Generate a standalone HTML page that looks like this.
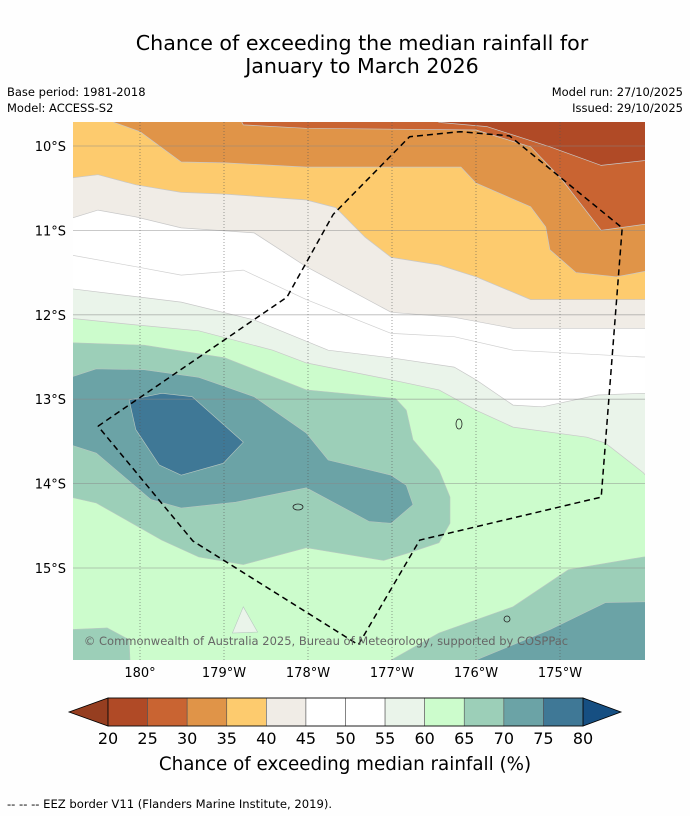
<!DOCTYPE html>
<html><head><meta charset="utf-8">
<style>
body{margin:0;background:#fff;}
svg{display:block;font-family:"DejaVu Sans","Liberation Sans",sans-serif;}
</style></head>
<body>
<svg id="chart" width="690" height="816" viewBox="0 0 690 816" xmlns="http://www.w3.org/2000/svg">
<rect width="690" height="816" fill="#fefefe"/>
<text x="362" y="50" text-anchor="middle" font-size="20.6">Chance of exceeding the median rainfall for</text>
<text x="362" y="73" text-anchor="middle" font-size="20.6">January to March 2026</text>
<text x="7" y="96" font-size="11.5">Base period: 1981-2018</text>
<text x="7" y="112" font-size="11.5">Model: ACCESS-S2</text>
<text x="683" y="96" text-anchor="end" font-size="11.5">Model run: 27/10/2025</text>
<text x="683" y="112" text-anchor="end" font-size="11.5">Issued: 29/10/2025</text>
<defs><clipPath id="mapclip"><rect x="73" y="122" width="572" height="538"/></clipPath></defs>
<g id="map" clip-path="url(#mapclip)"></g>
<g id="axes"></g>
<g id="cbar"></g>
<text x="345" y="770" text-anchor="middle" font-size="18.3">Chance of exceeding median rainfall (%)</text>
<text x="7" y="808" font-size="11.6">--  --  -- EEZ border V11 (Flanders Marine Institute, 2019).</text>
</svg>
<script>
const lonTicks = [180, 181, 182, 183, 184, 185];
const lonLabels = ["180°", "179°W", "178°W", "177°W", "176°W", "175°W"];
const latTicks = [-10, -11, -12, -13, -14, -15];
const latLabels = ["10°S", "11°S", "12°S", "13°S", "14°S", "15°S"];
const cbarLevels = [20, 25, 30, 35, 40, 45, 50, 55, 60, 65, 70, 75, 80];
const cbarColors = ["#b04a26","#c96432","#e09448","#fdcb6e","#f0ece6","#ffffff","#ffffff","#eaf4ea","#ccfccc","#9ccfb8","#6ba3a6","#3f7896"];
const underColor = "#963e20";
const overColor = "#164f82";

const c60 = [[179.0,-12.04],[179.17,-12.04],[179.95,-12.12],[180.70,-12.19],[181.58,-12.42],[181.98,-12.57],[182.99,-12.77],[183.56,-12.89],[184.0,-13.13],[184.44,-13.33],[185.32,-13.45],[185.54,-13.52],[185.99,-13.87],[186.2,-14.1]];
const c55 = [[179.0,-11.69],[179.17,-11.69],[180.49,-11.85],[181.36,-12.06],[182.24,-12.42],[182.99,-12.51],[183.74,-12.62],[184.0,-12.77],[184.44,-13.07],[184.79,-13.09],[185.45,-12.95],[185.98,-12.93],[186.2,-12.93]];
const c50 = [[179.0,-11.29],[179.17,-11.29],[179.95,-11.43],[180.49,-11.53],[181.23,-11.47],[181.98,-11.82],[182.99,-12.22],[183.74,-12.26],[184.44,-12.42],[185.98,-12.50],[186.2,-12.50]];
const c45 = [[179.0,-10.86],[179.17,-10.86],[179.5,-10.76],[179.95,-10.84],[180.49,-10.97],[181.36,-11.03],[181.98,-11.43],[182.99,-11.97],[183.74,-12.03],[184.44,-12.16],[186.2,-12.16]];
const c40 = [[179.0,-10.38],[179.17,-10.38],[179.5,-10.34],[179.95,-10.46],[180.49,-10.55],[181.01,-10.57],[181.98,-10.64],[182.33,-10.73],[182.68,-11.08],[182.99,-11.32],[183.56,-11.41],[184.0,-11.55],[184.65,-11.82],[186.2,-11.82]];
const c35 = [[179.6,-9.5],[179.69,-9.72],[180.0,-9.83],[180.49,-10.19],[181.01,-10.20],[181.98,-10.25],[183.82,-10.25],[184.0,-10.44],[184.65,-10.72],[184.83,-10.96],[184.88,-11.23],[185.19,-11.50],[185.67,-11.55],[186.2,-11.45]];
const c30 = [[181.10,-9.5],[181.23,-9.75],[181.98,-9.79],[184.0,-9.81],[184.65,-10.01],[185.01,-10.38],[185.49,-11.0],[186.2,-10.9]];
const c25 = [[183.4,-9.5],[183.56,-9.72],[184.13,-9.77],[184.88,-10.01],[185.49,-10.23],[186.2,-10.15]];
const blob65 = [[179.0,-12.33],[179.17,-12.33],[180.05,-12.36],[181.01,-12.51],[181.98,-12.89],[183.04,-12.99],[183.17,-13.13],[183.25,-13.48],[183.56,-13.84],[183.69,-14.16],[183.69,-14.47],[183.56,-14.70],[183.20,-14.82],[182.90,-14.91],[181.98,-14.76],[181.23,-14.96],[180.70,-14.87],[180.26,-14.67],[179.48,-14.23],[179.17,-14.16],[179.0,-14.16]];
const blob70 = [[179.0,-12.74],[179.17,-12.74],[179.48,-12.64],[180.05,-12.65],[180.70,-12.74],[181.36,-12.97],[181.98,-13.40],[182.24,-13.72],[182.99,-13.90],[183.17,-14.02],[183.25,-14.25],[182.99,-14.47],[182.73,-14.45],[181.98,-14.05],[181.14,-14.22],[180.49,-14.29],[180.13,-14.19],[179.48,-13.64],[179.17,-13.54],[179.0,-13.54]];
const blob75 = [[179.87,-13.01],[180.26,-12.93],[180.62,-12.97],[181.23,-13.51],[180.99,-13.76],[180.49,-13.90],[180.23,-13.78],[179.95,-13.36]];
const br65 = [[182.99,-16.3],[182.99,-16.09],[183.56,-15.77],[184.44,-15.46],[185.10,-15.02],[185.99,-14.87],[186.2,-14.85],[186.2,-16.3]];
const br70 = [[184.0,-16.3],[184.0,-16.09],[184.88,-15.73],[185.54,-15.41],[185.99,-15.40],[186.2,-15.4],[186.2,-16.3]];
const bl65 = [[179.0,-15.73],[179.17,-15.73],[179.61,-15.71],[179.87,-15.85],[179.89,-16.3],[179.0,-16.3]];
const tri55 = [[181.23,-15.46],[181.40,-15.76],[181.10,-15.77]];
const eez = [[179.5,-13.32],[181.75,-11.79],[182.30,-10.81],[183.21,-9.89],[183.81,-9.83],[184.40,-9.88],[185.74,-10.97],[185.49,-14.16],[183.33,-14.67],[182.60,-15.91],[180.63,-14.68],[179.5,-13.32]];

const NS = "http://www.w3.org/2000/svg";
function xs(lon){ return 140 + (lon - 180) * 84; }
function ys(lat){ return 146 + (-10 - lat) * 84.4; }
function pts(arr){ return arr.map(p => xs(p[0]).toFixed(1) + "," + ys(p[1]).toFixed(1)).join(" "); }
function mk(tag, attrs, parent){ const e = document.createElementNS(NS, tag); for (const k in attrs) e.setAttribute(k, attrs[k]); parent.appendChild(e); return e; }

const map = document.getElementById("map");
const TOP = -9.4;
function above(line){ return line.concat([[line[line.length-1][0], TOP],[line[0][0], TOP]]); }
const bg = mk("rect", {x:73, y:122, width:572, height:538, fill:cbarColors[8]}, map);


const bands = [[c60,7,'band-55-60'],[c55,5,'band-50-55'],[c45,4,'band-40-45'],[c40,3,'band-35-40'],[c35,2,'band-30-35'],[c30,1,'band-25-30'],[c25,0,'band-20-25']];
bands.forEach(b => {
  const p = mk("polygon", {points: pts(above(b[0])), fill: cbarColors[b[1]], stroke:"#c8c8c8", "stroke-width":"0.7"}, map);
  
  
});
const l50 = mk("polyline", {points: pts(c50), fill:"none", stroke:"#d0d0d0", "stroke-width":"0.7"}, map);


const blobs = [[blob65,9,'band-65-70'],[blob70,10,'band-70-75'],[blob75,11,'band-75-80'],[br65,9,'band-65-70-south'],[br70,10,'band-70-75-south'],[bl65,9,'band-65-70-southwest'],[tri55,7,'band-55-60-south']];
blobs.forEach(b => {
  const p = mk("polygon", {points: pts(b[0]), fill: cbarColors[b[1]], stroke:"#b8c8c0", "stroke-width":"0.6"}, map);
  
  
});
lonTicks.forEach(l => {
  const g = mk("line", {x1:xs(l), x2:xs(l), y1:122, y2:660, stroke:"#555", "stroke-width":"0.8", "stroke-dasharray":"1,2", opacity:"0.7"}, map);
  
  
});
latTicks.forEach(l => {
  const g = mk("line", {x1:73, x2:645, y1:ys(l), y2:ys(l), stroke:"#888", "stroke-width":"0.8", opacity:"0.6"}, map);
  
  
});
const isl = mk("ellipse", {cx:507, cy:619, rx:3, ry:3, fill:"none", stroke:"#222", "stroke-width":"0.8"}, map);


const isl2 = mk("ellipse", {cx:459, cy:424, rx:3, ry:5, fill:"none", stroke:"#222", "stroke-width":"0.8"}, map);


const isl3 = mk("ellipse", {cx:298, cy:507, rx:5, ry:3, fill:"none", stroke:"#222", "stroke-width":"0.8"}, map);


const ez = mk("polyline", {points: pts(eez), fill:"none", stroke:"#000", "stroke-width":"1.5", "stroke-dasharray":"6,4"}, map);


const cp = mk("text", {x:326, y:645, "text-anchor":"middle", "font-size":"11.5", fill:"#666"}, map);
cp.textContent = "© Commonwealth of Australia 2025, Bureau of Meteorology, supported by COSPPac";



const axes = document.getElementById("axes");
lonTicks.forEach((l,i) => {
  const t = mk("text", {x:xs(l), y:677, "text-anchor":"middle", "font-size":"13"}, axes);
  t.textContent = lonLabels[i];
  
  
});
latTicks.forEach((l,i) => {
  const t = mk("text", {x:66, y:ys(l)+5, "text-anchor":"end", "font-size":"13"}, axes);
  t.textContent = latLabels[i];
  
  
});

const cb = document.getElementById("cbar");
const cx0 = 108, cx1 = 583, cy0 = 698, cy1 = 726;
function cbx(v){ return cx0 + (v - cbarLevels[0]) / (cbarLevels[cbarLevels.length-1] - cbarLevels[0]) * (cx1 - cx0); }
const under = mk("polygon", {points: cx0+","+cy0+" "+cx0+","+cy1+" 69,712", fill:underColor, stroke:"#000", "stroke-width":"0.8"}, cb);


const over = mk("polygon", {points: cx1+","+cy0+" "+cx1+","+cy1+" 621,712", fill:overColor, stroke:"#000", "stroke-width":"0.8"}, cb);


cbarColors.forEach((c,i) => {
  const r = mk("rect", {x:cbx(cbarLevels[i]), y:cy0, width:cbx(cbarLevels[i+1])-cbx(cbarLevels[i]), height:cy1-cy0, fill:c, stroke:"#555", "stroke-width":"0.6"}, cb);
  
  
});
const frame = mk("rect", {x:cx0, y:cy0, width:cx1-cx0, height:cy1-cy0, fill:"none", stroke:"#000", "stroke-width":"0.8"}, cb);


cbarLevels.forEach(v => {
  const t = mk("text", {x:cbx(v), y:744, "text-anchor":"middle", "font-size":"16"}, cb);
  t.textContent = v;
  
  
});
</script>
</body></html>
